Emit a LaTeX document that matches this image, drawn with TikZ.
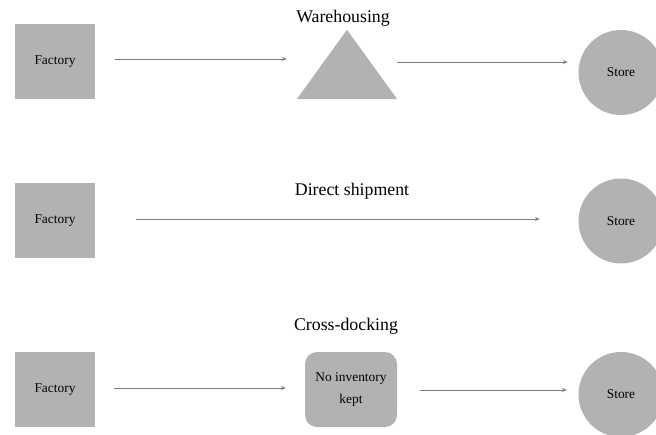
\documentclass[tikz,border=0pt]{standalone}
\usepackage{fontspec}
\setmainfont{Liberation Serif}
\usepackage{tikz}
\usetikzlibrary{arrows.meta,positioning}
\definecolor{shapegray}{RGB}{178,178,178}
\definecolor{flowgray}{RGB}{125,125,125}

\begin{document}
\begin{tikzpicture}[x=1pt,y=-1pt,font=\fontsize{13.4}{22}\selectfont,every node/.style={align=center},
    plantbox/.style={fill=shapegray,minimum width=80pt,minimum height=75pt,inner sep=0pt},
    storedisc/.style={circle,fill=shapegray,minimum size=85pt,inner sep=0pt},
    flow/.style={draw=flowgray,line width=0.8pt,-{Stealth[length=5pt,width=4pt]}},
    routename/.style={font=\fontsize{17.8}{20}\selectfont}]
  \clip (0,0) rectangle (656,434);
  % warehousing
  \node[plantbox] (f1) at (55,61.5) {Factory};
  \node[minimum width=100pt,minimum height=69pt,inner sep=0pt] (w1) at (347,64.5) {};
  \fill[shapegray] (w1.south west) -- (w1.north) -- (w1.south east) -- cycle;
  \node[storedisc] (s1) at (621,72.5) {Store};
  \node[routename] (t1) at (343,18) {Warehousing};
  \draw[flow] ([shift={(20pt,2.5pt)}]f1.east) -- ([shift={(-10pt,5.5pt)}]w1.west);
  \draw[flow] ([yshift=2.5pt]w1.east) -- ([shift={(-10.5pt,10.5pt)}]s1.west);
  % direct shipment
  \node[plantbox] (f2) at (55,220.5) {Factory};
  \node[storedisc] (s2) at (621,221) {Store};
  \node[routename] (t2) at (352,191.5) {Direct shipment};
  \draw[flow] ([shift={(41pt,1.5pt)}]f2.east) -- ([shift={(-38.5pt,2pt)}]s2.west);
  % cross-docking
  \node[plantbox] (f3) at (55,389.5) {Factory};
  \node[fill=shapegray,rounded corners=12pt,minimum width=92pt,minimum height=75pt,inner sep=0pt] (n3) at (351,389.5) {No inventory\\kept};
  \node[storedisc] (s3) at (621,394.5) {Store};
  \node[routename] (t3) at (346,326.5) {Cross-docking};
  \draw[flow] ([shift={(19pt,1.5pt)}]f3.east) -- ([shift={(-19pt,1.5pt)}]n3.west);
  \draw[flow] ([shift={(23pt,-0.5pt)}]n3.east) -- ([shift={(-11.5pt,4.5pt)}]s3.west);
\end{tikzpicture}
\end{document}
